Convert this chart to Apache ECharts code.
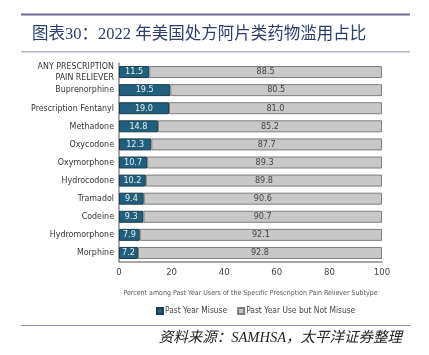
<!DOCTYPE html>
<html><head><meta charset="utf-8">
<script src="https://cdn.jsdelivr.net/npm/echarts@6/dist/echarts.min.js"></script>
<style>html,body{margin:0;padding:0;background:#fff}#c{width:429px;height:355px}</style>
</head><body><div id="c"></div>
<script>
const categories = ["ANY PRESCRIPTION\nPAIN RELIEVER","Buprenorphine","Prescription Fentanyl","Methadone","Oxycodone","Oxymorphone","Hydrocodone","Tramadol","Codeine","Hydromorphone","Morphine"];
const misuse = [11.5,19.5,19.0,14.8,12.3,10.7,10.2,9.4,9.3,7.9,7.2];
const notMisuse = [88.5,80.5,81.0,85.2,87.7,89.3,89.8,90.6,90.7,92.1,92.8];
const xTicks = [0,20,40,60,80,100];
const titleText = "图表30：2022 年美国处方阿片类药物滥用占比";
const sourceText = "资料来源：SAMHSA，太平洋证券整理";
const seriesNames = ["Past Year Misuse","Past Year Use but Not Misuse"];

const narrow = '"DejaVu Sans Condensed", "Liberation Sans Narrow", sans-serif';
const chart = echarts.init(document.getElementById('c'), null, {renderer:'canvas'});
chart.setOption({
  animation:false,
  backgroundColor:'#fff',
  grid:{left:119, right:47, top:63, height:199, containLabel:false},
  xAxis:{type:'value', min:0, max:100, interval:20,
    splitLine:{show:false},
    axisLine:{show:true, lineStyle:{color:'#8a8a8a', width:1.5}},
    axisTick:{show:false},
    axisLabel:{color:'#444', fontSize:9.5, fontFamily:narrow, margin:6, formatter:v=>xTicks.includes(v)?String(v):''},
    name:'Percent among Past Year Users of the Specific Prescription Pain Reliever Subtype',
    nameLocation:'middle', nameGap:28,
    nameTextStyle:{color:'#555', fontSize:7, fontFamily:narrow}
  },
  yAxis:{type:'category', data:categories, inverse:true,
    axisLine:{show:true, lineStyle:{color:'#8a8a8a', width:1.5}},
    axisTick:{show:false},
    axisLabel:{color:'#333', fontSize:8.8, fontFamily:narrow, margin:5, lineHeight:11}
  },
  legend:{top:307, left:156, padding:0, itemWidth:6, itemHeight:6, itemGap:10,
    textStyle:{color:'#444', fontSize:8.4, fontFamily:narrow, padding:[0,0,0,-3]},
    data:seriesNames.map((n,i)=>({name:n, icon:'rect'}))
  },
  series:[
    {name:seriesNames[0], type:'bar', stack:'a', data:misuse, barWidth:12,
      itemStyle:{color:'#20607c', borderColor:'#1a3c4c', borderWidth:1},
      label:{show:true, position:'inside', color:'#e8eef2', fontSize:9, fontFamily:narrow, formatter:p=>p.value.toFixed(1)}},
    {name:seriesNames[1], type:'bar', stack:'a', data:notMisuse, barWidth:12,
      itemStyle:{color:'#c8c8c8', borderColor:'#7e7e7e', borderWidth:1},
      label:{show:true, position:'inside', color:'#444', fontSize:9, fontFamily:narrow, formatter:p=>p.value.toFixed(1)}}
  ],
  graphic:[
    {type:'rect', shape:{x:21, y:13.5, width:389, height:2}, style:{fill:'#6e6e94'}},
    {type:'text', left:32, top:26, style:{text:titleText, fill:'#2d3e6c', font:'16.5px "Liberation Serif", "Noto Sans CJK SC", serif'}},
    {type:'rect', shape:{x:21, y:51, width:389, height:1.5}, style:{fill:'#b4b4cc'}},
    {type:'rect', shape:{x:21, y:325, width:389, height:1}, style:{fill:'#8a8ab0'}},
    {type:'text', right:27, top:331, style:{text:sourceText, fill:'#222', font:'italic 14.5px "Liberation Serif", "Noto Sans CJK SC", serif'}}
  ]
});
</script></body></html>
